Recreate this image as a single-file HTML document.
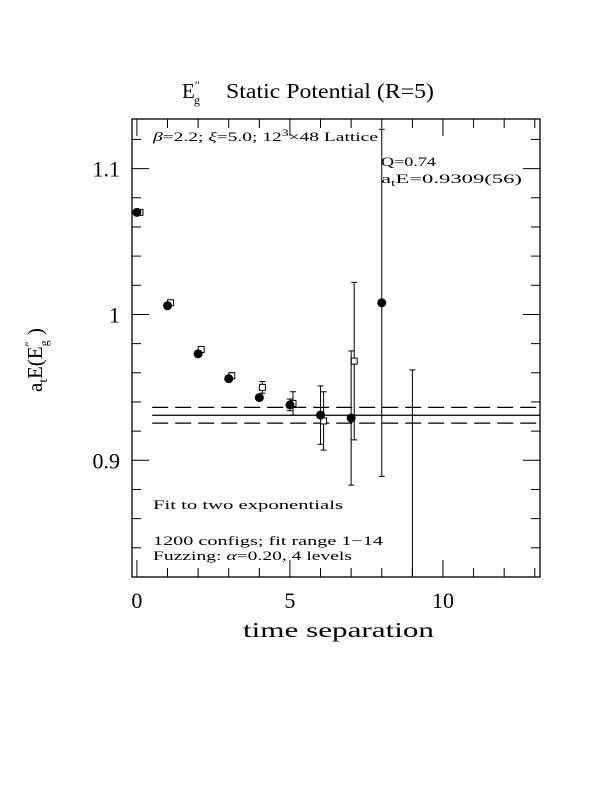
<!DOCTYPE html>
<html><head><meta charset="utf-8"><style>
html,body{margin:0;background:#fff;overflow:hidden;width:612px;height:792px}
svg{display:block}
svg text{font-family:"Liberation Serif",serif;fill:#000}
</style></head><body>
<svg id="chart" width="612" height="792" viewBox="0 0 612 792" xmlns="http://www.w3.org/2000/svg">
<rect width="612" height="792" fill="#fff"/>
<g id="axes"></g>
<g id="marks"></g>
<text x="182" y="98" font-size="21">E<tspan font-size="12" dy="-9">″</tspan><tspan font-size="12" dx="-6" dy="15">g</tspan></text>
<text x="226" y="98" font-size="21" textLength="208" lengthAdjust="spacingAndGlyphs">Static Potential (R=5)</text>
<text transform="translate(42,392) rotate(-90)" font-size="21">a<tspan font-size="13" dy="5">t</tspan><tspan dy="-5">E(E</tspan><tspan font-size="12" dy="-9">″</tspan><tspan font-size="12" dx="-5" dy="15">g</tspan><tspan dy="-6"> )</tspan></text>
<text x="243" y="637" font-size="21" textLength="191" lengthAdjust="spacingAndGlyphs">time separation</text>
<text x="153" y="141" font-size="13" textLength="225" lengthAdjust="spacingAndGlyphs"><tspan font-style="italic">β</tspan>=2.2; <tspan font-style="italic">ξ</tspan>=5.0; 12<tspan font-size="9" dy="-5">3</tspan><tspan dy="5">×48 Lattice</tspan></text>
<text x="381" y="166" font-size="13" textLength="55" lengthAdjust="spacingAndGlyphs">Q=0.74</text>
<text x="381" y="183" font-size="13" textLength="141" lengthAdjust="spacingAndGlyphs">a<tspan font-size="9" dy="3">t</tspan><tspan dy="-3">E=0.9309(56)</tspan></text>
<text x="153" y="509" font-size="13" textLength="190" lengthAdjust="spacingAndGlyphs">Fit to two exponentials</text>
<text x="153" y="545" font-size="13" textLength="230" lengthAdjust="spacingAndGlyphs">1200 configs; fit range 1−14</text>
<text x="153" y="560" font-size="13" textLength="199" lengthAdjust="spacingAndGlyphs">Fuzzing: <tspan font-style="italic">α</tspan>=0.20, 4 levels</text>
</svg>
<script>
const tCircle=[0,1,2,3,4,5,6,7,8];
const vCircle=[1.070,1.006,0.973,0.956,0.943,0.938,0.931,0.929,1.008];
const eCircle=[0.001,0.001,0.002,0.002,0.002,0.004,0.020,0.046,0.119];
const tSquare=[0.1,1.1,2.1,3.1,4.1,5.1,6.1,7.1,9.0];
const vSquare=[1.070,1.008,0.976,0.958,0.950,0.939,0.927,0.968,0.800];
const eSquare=[0.001,0.001,0.002,0.002,0.004,0.008,0.020,0.054,0.162];
const fitValue=[0.9309];
const fitError=[0.0054];
const xTicks=[0,5,10];
const yTicks=[0.9,1.0,1.1];
const yTickLabels=["0.9","1","1.1"];
const L=132,R=540,T=119,B=577;
const X0=-0.16,X1=13.17,Y0=0.820,Y1=1.134;
const sx=v=>L+(v-X0)/(X1-X0)*(R-L);
const sy=v=>B-(v-Y0)/(Y1-Y0)*(B-T);
const NS="http://www.w3.org/2000/svg";
function mk(parent,tag,attrs){const e=document.createElementNS(NS,tag);for(const k in attrs)e.setAttribute(k,attrs[k]);parent.appendChild(e);return e;}
const ax=document.getElementById('axes'),mg=document.getElementById('marks');
const fr=mk(ax,'rect',{x:L,y:T,width:R-L,height:B-T,fill:'none',stroke:'#000','stroke-width':1.3});


for(let t=0;t<=13;t++){const x=sx(t);const len=xTicks.includes(t)?17:9;
 const a=mk(ax,'line',{x1:x,y1:B,x2:x,y2:B-len,stroke:'#000'});
 
 
 const b=mk(ax,'line',{x1:x,y1:T,x2:x,y2:T+len,stroke:'#000'});
 
 }
xTicks.forEach(t=>{const tx=mk(ax,'text',{x:sx(t),y:608,'font-size':22,'text-anchor':'middle'});tx.textContent=String(t);
 
 });
for(let i=0;i<16;i++){const v=0.82+i*0.02;if(v>Y1)break;const y=sy(v);
 const major=yTicks.some(m=>Math.abs(m-v)<1e-6);const len=major?17:9;
 const a=mk(ax,'line',{x1:L,y1:y,x2:L+len,y2:y,stroke:'#000'});
 
 
 const b=mk(ax,'line',{x1:R,y1:y,x2:R-len,y2:y,stroke:'#000'});
 
 }
yTicks.forEach((v,i)=>{const tx=mk(ax,'text',{x:120,y:sy(v)+8,'font-size':22,'text-anchor':'end'});tx.textContent=yTickLabels[i];
 
 });
const clip=mk(mg,'clipPath',{id:'pc'});mk(clip,'rect',{x:L,y:T,width:R-L,height:B-T});
const g=mk(mg,'g',{'clip-path':'url(#pc)'});
const fv=fitValue[0],fe=fitError[0];
[[fv,null],[fv+fe,'16,7'],[fv-fe,'16,7']].forEach(([v,d],i)=>{
 const a={x1:sx(0.5),x2:R,y1:sy(v),y2:sy(v),stroke:'#000','stroke-width':1.2};if(d)a['stroke-dasharray']=d;
 const l=mk(g,'line',a);
 
 });
function err(t,v,e,name){const x=sx(t);
 const l=mk(g,'line',{x1:x,x2:x,y1:sy(v+e),y2:sy(v-e),stroke:'#000'});
 
 
 [v+e,v-e].forEach(w=>{const c=mk(g,'line',{x1:x-3,x2:x+3,y1:sy(w),y2:sy(w),stroke:'#000'});
 
 });}
tSquare.forEach((t,i)=>{err(t,vSquare[i],eSquare[i],'square-error-bar');
 const r=mk(g,'rect',{x:sx(t)-3,y:sy(vSquare[i])-3,width:6,height:6,fill:'#fff',stroke:'#000'});
 
 });
tCircle.forEach((t,i)=>{err(t,vCircle[i],eCircle[i],'circle-error-bar');
 const c=mk(g,'circle',{cx:sx(t),cy:sy(vCircle[i]),r:4.5,fill:'#000'});
 
 });
</script>
</body></html>
